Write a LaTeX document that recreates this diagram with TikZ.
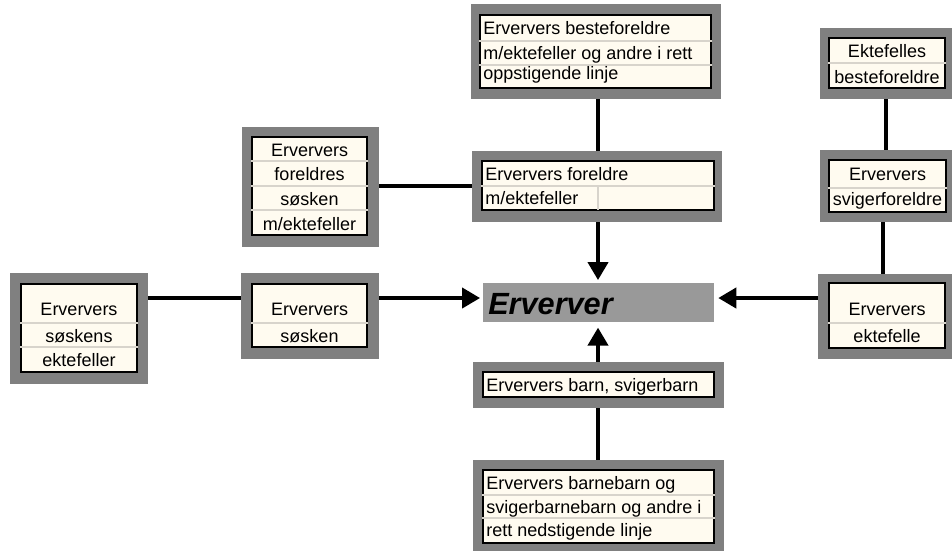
\documentclass[tikz,border=0pt]{standalone}
\usepackage{fontspec}
\setmainfont{Liberation Sans}
\usetikzlibrary{fit,calc,arrows.meta}
\definecolor{framegrey}{HTML}{808080}
\definecolor{ervgrey}{HTML}{999999}
\definecolor{cream}{HTML}{FFFBF0}
\definecolor{divgrey}{HTML}{D8D4CC}
\begin{document}
\begin{tikzpicture}[x=0.75pt,y=-0.75pt,
  outer/.style={inner sep=0pt,fill=framegrey,draw=none},
  inner/.style={inner sep=0pt,fill=cream,draw=black,line width=1.2pt},
  divline/.style={draw=divgrey,line width=0.8pt},
  txt/.style={inner sep=0pt,font=\fontsize{13.5}{15}\selectfont},
  txtl/.style={txt,anchor=base west},
  txtc/.style={txt,anchor=base},
  conn/.style={line width=3pt},
  arr/.style={conn,-{Triangle[length=13.5pt,width=15pt]}}]
\useasboundingbox[fill=white] (0,0) rectangle (952,551);

% A: besteforeldre
\node[outer,fit={(471,4) (721,99)}] (bf) {};
\node[inner,fit={(480,15) (711,88)}] (bfi) {};
\draw[divline] (bfi.west |- 0,41) -- (bfi.east |- 0,41);
\draw[divline] (bfi.west |- 0,65) -- (bfi.east |- 0,65);
\node[txtl] (bf1) at (483,34) {Erververs besteforeldre};
\node[txtl] (bf2) at (483,59) {m/ektefeller og andre i rett};
\node[txtl] (bf3) at (483,79) {oppstigende linje};

% B: foreldres soesken
\node[outer,fit={(242,127) (379,247)}] (fs) {};
\node[inner,fit={(252,137) (367,235)}] (fsi) {};
\foreach \yy in {161,186,210} \draw[divline] (fsi.west |- 0,\yy) -- (fsi.east |- 0,\yy);
\node[txtc] (fs1) at (309.5,156) {Erververs};
\node[txtc] (fs2) at (309.5,180) {foreldres};
\node[txtc] (fs3) at (309.5,205) {søsken};
\node[txtc] (fs4) at (309.5,230) {m/ektefeller};

% C: foreldre
\node[outer,fit={(472,151) (722,222)}] (fo) {};
\node[inner,fit={(482,161) (714,210)}] (foi) {};
\draw[divline] (foi.west |- 0,186) -- (foi.east |- 0,186);
\draw[divline] (598,186) -- (598,210);
\node[txtl] (fo1) at (485,180) {Erververs foreldre};
\node[txtl] (fo2) at (485,204) {m/ektefeller};

% D: soeskens ektefeller
\node[outer,fit={(10,273) (148,384)}] (ss) {};
\node[inner,fit={(21,284) (137,372)}] (ssi) {};
\foreach \yy in {323,347} \draw[divline] (ssi.west |- 0,\yy) -- (ssi.east |- 0,\yy);
\node[txtc] (ss1) at (79,315) {Erververs};
\node[txtc] (ss2) at (79,342) {søskens};
\node[txtc] (ss3) at (79,366) {ektefeller};

% E: soesken
\node[outer,fit={(241,273) (379,359)}] (so) {};
\node[inner,fit={(252,284) (367,347)}] (soi) {};
\draw[divline] (soi.west |- 0,323) -- (soi.east |- 0,323);
\node[txtc] (so1) at (309.5,315) {Erververs};
\node[txtc] (so2) at (309.5,342) {søsken};

% F: Erverver
\node[fit={(483,283) (714,322)},inner sep=0pt,fill=ervgrey] (erv) {};
\node[inner sep=0pt,anchor=base west,font=\fontsize{23}{25}\selectfont\bfseries\itshape] (ervt) at (488,314) {Erverver};

% G: barn
\node[outer,fit={(473,362) (724,408)}] (ba) {};
\node[inner,fit={(483,372) (714,397)}] (bai) {};
\node[txtl] (ba1) at (486,391) {Erververs barn, svigerbarn};

% H: barnebarn
\node[outer,fit={(473,460) (724,551)}] (bb) {};
\node[inner,fit={(483,470) (714,543)}] (bbi) {};
\foreach \yy in {495,518} \draw[divline] (bbi.west |- 0,\yy) -- (bbi.east |- 0,\yy);
\node[txtl] (bb1) at (486,489) {Erververs barnebarn og};
\node[txtl] (bb2) at (486,513) {svigerbarnebarn og andre i};
\node[txtl] (bb3) at (486,536) {rett nedstigende linje};

% I: ektefelle
\node[outer,fit={(818,274) (952,359)}] (ek) {};
\node[inner,fit={(829,283) (945,348)}] (eki) {};
\draw[divline] (eki.west |- 0,323) -- (eki.east |- 0,323);
\node[txtc] (ek1) at (887,315) {Erververs};
\node[txtc] (ek2) at (887,342) {ektefelle};

% J: svigerforeldre
\node[outer,fit={(820,150) (952,222)}] (sv) {};
\node[inner,fit={(829,160) (946,212)}] (svi) {};
\draw[divline] (svi.west |- 0,188) -- (svi.east |- 0,188);
\node[txtc] (sv1) at (887.5,180) {Erververs};
\node[txtc] (sv2) at (887.5,205) {svigerforeldre};

% K: ektefelles besteforeldre
\node[outer,fit={(820,28) (952,99)}] (eb) {};
\node[inner,fit={(829,38) (945,88)}] (ebi) {};
\draw[divline] (ebi.west |- 0,63) -- (ebi.east |- 0,63);
\node[txtc] (eb1) at (887,57) {Ektefelles};
\node[txtc] (eb2) at (887,83) {besteforeldre};

% connectors
\coordinate (xc) at (598,0);
\coordinate (xr1) at (886,0);
\coordinate (xr2) at (883,0);
\draw[conn] (bf.south -| xc) -- (fo.north -| xc);
\draw[conn] (fs.east |- 0,186) -- (fo.west |- 0,186);
\draw[arr] (fo.south -| xc) -- ([yshift=2pt]erv.north -| xc);
\draw[conn] (ss.east |- 0,298) -- (so.west |- 0,298);
\draw[arr] (so.east |- 0,298) -- ([xshift=-2pt]erv.west |- 0,298);
\draw[arr] (ek.west |- 0,298) -- ([xshift=3pt]erv.east |- 0,298);
\draw[arr] (ba.north -| xc) -- ([yshift=-4pt]erv.south -| xc);
\draw[conn] (bb.north -| xc) -- (ba.south -| xc);
\draw[conn] (eb.south -| xr1) -- (sv.north -| xr1);
\draw[conn] (sv.south -| xr2) -- (ek.north -| xr2);
\end{tikzpicture}
\end{document}
